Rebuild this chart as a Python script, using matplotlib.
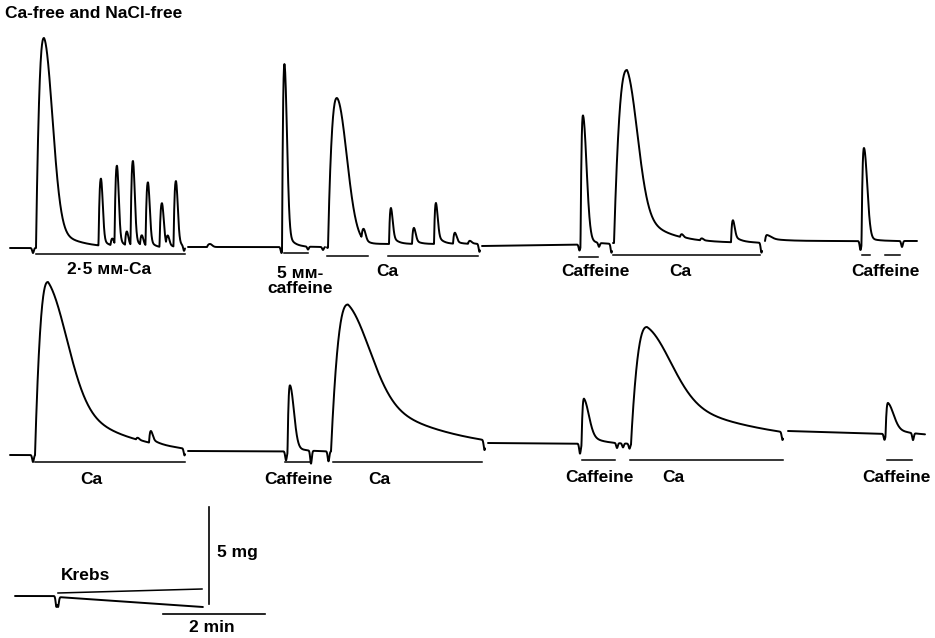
import numpy as np
import matplotlib
matplotlib.use('Agg')
import matplotlib.pyplot as plt

# chart recorder trace
# x = position along the paper (px), y = pen position down the page (px)
PX_PER_MIN = 51
PX_PER_MG = 19.4

# continuous pieces of pen trace: start, end, baseline at start / end
seg_start = [10, 188, 327, 482, 613, 765, 10, 188, 488, 788, 15, 57.5]
seg_end   = [185, 325, 480, 612, 762, 917, 185, 485, 783, 925, 57, 203]
seg_base0 = [248, 247, 244, 246, 243, 241, 455, 451, 443, 431, 596, 597]
seg_base1 = [248, 247, 244, 244, 243, 241, 455, 452, 445, 435, 596, 607]

# contractions: segment, onset, time of peak, amplitude, decay, tail fraction, tail decay
peak_seg   = [0, 0, 0, 0, 0, 0, 0, 0, 0, 0, 0,
              1, 1,
              2, 2, 2, 2, 2, 2, 2,
              3,
              4, 4, 4, 4,
              5, 5,
              6, 6, 6,
              7, 7,
              8, 8,
              9]
peak_on    = [36, 98.5, 114.5, 130.5, 145.5, 159.5, 173.5, 110.5, 125, 140, 166,
              207, 282,
              328, 361.5, 389, 412, 434, 453, 468,
              580.5,
              614, 680, 700, 731,
              765, 861.5,
              35, 136, 149,
              287.5, 331,
              581.5, 631,
              885.5]
peak_top   = [44, 101, 117, 133, 148, 162, 176, 112.5, 127, 142, 168,
              210, 284.5,
              337, 364, 391, 414, 436, 455, 470,
              583,
              627, 682, 702, 733,
              767, 864,
              48, 138, 151,
              290, 348,
              584, 647,
              888]
peak_amp   = [210, 67, 80, 85, 64, 44, 66, 7, 14, 10, 10,
              3, 183,
              146, 11, 36, 16, 41, 11, 3,
              129,
              173, 3, 2, 22,
              6, 93,
              173, 2, 12,
              66, 147,
              45, 117,
              31]
peak_tau   = [12, 2.5, 2.5, 2.5, 2.5, 2.5, 2.5, 2, 2, 2, 2,
              3, 3.5,
              14, 2.5, 2.5, 2.5, 2.5, 2.5, 2.5,
              5,
              15, 2, 2, 2.5,
              6, 4.5,
              28, 2, 2.5,
              5.5, 32,
              7, 35,
              8]
peak_w     = [0.15, 0.15, 0.15, 0.15, 0.15, 0.15, 0.15, 0.3, 0.3, 0.3, 0.3,
              0, 0.12,
              0.05, 0.3, 0.3, 0.3, 0.3, 0.3, 0.3,
              0.08,
              0.3, 0.3, 0.3, 0.35,
              0.5, 0.06,
              0.45, 0.3, 0.4,
              0.1, 0.5,
              0.3, 0.5,
              0.3]
peak_tail  = [22, 5, 5, 5, 5, 5, 5, 4, 4, 4, 4,
              5, 6,
              10, 4, 5, 5, 5, 5, 5,
              8,
              25, 5, 5, 7,
              15, 8,
              55, 5, 8,
              10, 75,
              12, 90,
              14]

# pen artefacts at solution changes: segment, position, depth
dip_seg   = [0, 0, 1, 1, 1, 2, 2, 3, 3, 3, 4, 5, 5,
             6, 6, 7, 7, 7, 7, 8, 8, 8, 8, 8, 9, 9, 10, 11]
dip_x     = [33, 184, 281.5, 308, 323, 327.5, 479.5, 579.5, 599, 611.5, 761.5, 860.5, 902,
             33, 184.5, 286, 311, 328.5, 484.5, 580, 617, 623, 629.5, 782.5, 884.5, 913, 56.5, 58]
dip_depth = [5, 5, 6, 3, 3, 4, 8, 6, 4, 9, 10, 9, 6,
             7, 7, 9, 13, 10, 10, 10, 5, 4, 5, 8, 6, 7, 11, 10]

# solution bars under the trace: start, end, level at start / end
bar_x0 = [36, 284, 327, 388, 579, 613, 862, 885, 35, 285, 333, 582, 630, 887, 58]
bar_x1 = [185, 308, 368, 478, 598, 760, 870, 900, 185, 311, 482, 615, 783, 912, 202]
bar_y0 = [254, 253, 256, 256, 257, 255, 255, 255, 462, 462, 462, 460, 460, 460, 593]
bar_y1 = [254, 253, 256, 256, 257, 255, 255, 255, 462, 462, 462, 460, 460, 460, 589]

labels = ['Ca-free and NaCl-free', '2·5 ᴍᴍ-Ca', '5 ᴍᴍ-\ncaffeine', 'Ca', 'Caffeine', 'Ca', 'Caffeine',
          'Ca', 'Caffeine', 'Ca', 'Caffeine', 'Ca', 'Caffeine', 'Krebs', '5 mg', '2 min']
label_x = [5, 109, 300, 387, 595, 680, 885, 91, 298, 379, 599, 673, 896, 86, 217, 212]
label_y = [14, 270, 281, 272, 272, 272, 272, 480, 480, 480, 477, 477, 477, 576, 552, 628]


def contraction(x, on, top, amp, tau, w, tail):
    y = np.zeros_like(x)
    s = (x - on) / max(top - on, 1e-6)
    rise = (x >= on) & (x < top)
    y[rise] = amp * (1 - (1 - s[rise]) ** 2.5)
    d = x - top
    fall = x >= top
    y[fall] = amp * ((1 - w) * np.exp(-(d[fall] / tau) ** 2) + w * np.exp(-d[fall] / tail))
    return y


fig = plt.figure(figsize=(9.35, 6.38), dpi=100)
ax = fig.add_axes([0, 0, 1, 1])
ax.set_xlim(0, 935)
ax.set_ylim(638, 0)
ax.axis('off')

for i in range(len(seg_start)):
    x = np.arange(seg_start[i], seg_end[i] + 0.01, 0.2)
    y = seg_base0[i] + (seg_base1[i] - seg_base0[i]) * (x - x[0]) / (x[-1] - x[0])
    for k in range(len(peak_seg)):
        if peak_seg[k] == i:
            y = y - contraction(x, peak_on[k], peak_top[k], peak_amp[k],
                                peak_tau[k], peak_w[k], peak_tail[k])
    for k in range(len(dip_seg)):
        if dip_seg[k] == i:
            y = y + dip_depth[k] * np.exp(-0.5 * ((x - dip_x[k]) / 0.8) ** 2)
    ax.plot(x, y, color='black', lw=1.4, solid_capstyle='round', solid_joinstyle='round')

for i in range(len(bar_x0)):
    ax.plot([bar_x0[i], bar_x1[i]], [bar_y0[i], bar_y1[i]], color='black', lw=1.1)

# calibration: 5 mg and 2 min
ax.plot([209, 209], [604, 604 - 5 * PX_PER_MG], color='black', lw=1.2)
ax.plot([163, 163 + 2 * PX_PER_MIN], [614, 614], color='black', lw=1.2)

font = dict(family=['Liberation Sans', 'DejaVu Sans'], weight='bold', fontsize=12.5)
for i in range(len(labels)):
    ha = 'center'
    if i == 0 or labels[i] == '5 mg':
        ha = 'left'
    ax.text(label_x[i], label_y[i], labels[i], ha=ha, va='center', linespacing=1.05, **font)

fig.savefig('out.png', dpi=100, facecolor='white')
